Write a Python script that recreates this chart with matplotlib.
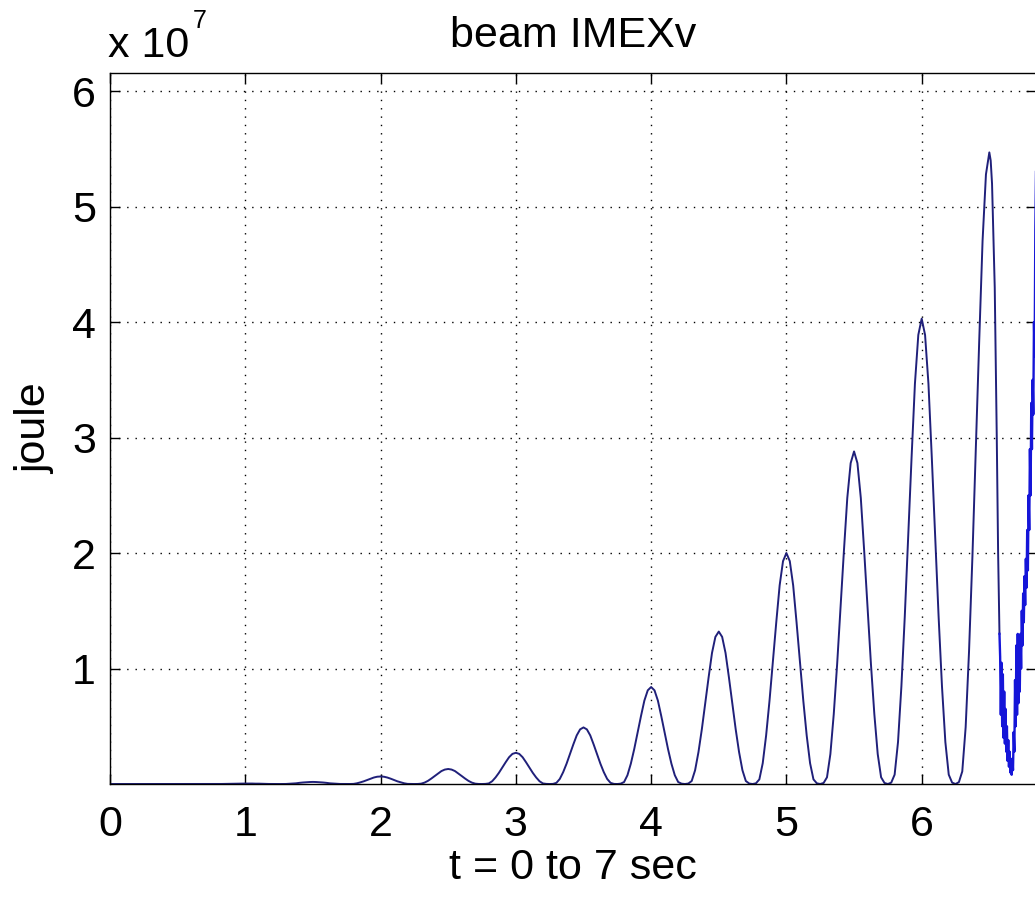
import numpy as np
import matplotlib
matplotlib.use("Agg")
import matplotlib.pyplot as plt
from matplotlib.ticker import FixedLocator, FuncFormatter

plt.rcParams['font.family'] = ['Liberation Sans', 'DejaVu Sans']

SCALE = 1e7

# Energy samples every 0.025 s from t = 0 to 6.5 s (units of 1e7 joule)
t_step = 0.025
energy_main = [
    # 0.000 .. 0.725
    0, 0, 0, 0, 0, 0, 0, 0, 0, 0, 0, 0, 0, 0, 0,
    0, 0, 0, 0, 0, 0, 0, 0, 0, 0, 0, 0, 0, 0, 0,
    # 0.750 .. 1.225
    0, 0, 0, 0.0004, 0.001, 0.002, 0.003, 0.003, 0.004, 0.004,
    0.004, 0.004, 0.004, 0.003, 0.003, 0.002, 0.001, 0.0004, 0, 0,
    # 1.250 .. 1.725
    0, 0.0001, 0.0004, 0.002, 0.004, 0.006, 0.010, 0.013, 0.015, 0.017,
    0.018, 0.017, 0.015, 0.013, 0.010, 0.006, 0.004, 0.002, 0.0004, 0.0001,
    # 1.750 .. 2.225
    0, 0.0002, 0.001, 0.006, 0.014, 0.023, 0.034, 0.046, 0.056, 0.063,
    0.065, 0.063, 0.056, 0.046, 0.034, 0.023, 0.014, 0.006, 0.001, 0.0002,
    # 2.250 .. 2.725
    0, 0.0004, 0.003, 0.012, 0.027, 0.047, 0.069, 0.091, 0.112, 0.125,
    0.130, 0.125, 0.112, 0.091, 0.069, 0.047, 0.027, 0.012, 0.003, 0.0004,
    # 2.750 .. 3.225
    0, 0.001, 0.005, 0.024, 0.057, 0.097, 0.143, 0.189, 0.232, 0.261,
    0.270, 0.261, 0.232, 0.189, 0.143, 0.097, 0.057, 0.024, 0.005, 0.001,
    # 3.250 .. 3.725
    0, 0.001, 0.010, 0.044, 0.103, 0.176, 0.260, 0.343, 0.421, 0.473,
    0.490, 0.473, 0.421, 0.343, 0.260, 0.176, 0.103, 0.044, 0.010, 0.001,
    # 3.750 .. 4.225
    0, 0.003, 0.017, 0.076, 0.176, 0.302, 0.445, 0.588, 0.722, 0.811,
    0.840, 0.811, 0.722, 0.588, 0.445, 0.302, 0.176, 0.076, 0.017, 0.003,
    # 4.250 .. 4.725
    0, 0.004, 0.026, 0.119, 0.277, 0.475, 0.700, 0.924, 1.135, 1.274,
    1.320, 1.274, 1.135, 0.924, 0.700, 0.475, 0.277, 0.119, 0.026, 0.004,
    # 4.750 .. 5.225
    0, 0.006, 0.040, 0.180, 0.420, 0.720, 1.060, 1.400, 1.720, 1.930,
    2.000, 1.930, 1.720, 1.400, 1.060, 0.720, 0.420, 0.180, 0.040, 0.006,
    # 5.250 .. 5.725
    0, 0.009, 0.058, 0.259, 0.605, 1.037, 1.526, 2.016, 2.477, 2.779,
    2.880, 2.779, 2.477, 2.016, 1.526, 1.037, 0.605, 0.259, 0.058, 0.009,
    # 5.750 .. 6.225
    0, 0.012, 0.081, 0.363, 0.846, 1.451, 2.136, 2.821, 3.466, 3.889,
    4.030, 3.889, 3.466, 2.821, 2.136, 1.451, 0.846, 0.363, 0.081, 0.012,
    # 6.250 .. 6.500
    0, 0.016, 0.109, 0.492, 1.149, 1.969, 2.899, 3.829, 4.704, 5.279,
    5.470,
]

# Steep fall after the last regular peak
drop_t = [6.51, 6.52, 6.54, 6.555, 6.565, 6.575]
drop_v = [5.40, 5.20, 4.30, 3.00, 2.00, 1.30]

# Onset of the numerical instability (fast oscillation)
burst_t = [6.580, 6.585, 6.590, 6.595, 6.600, 6.605, 6.610, 6.615, 6.620, 6.625,
           6.630, 6.635, 6.640, 6.645, 6.650, 6.655, 6.660, 6.665, 6.670, 6.675,
           6.680, 6.685, 6.690, 6.695, 6.700, 6.705, 6.710, 6.715, 6.720, 6.725,
           6.730, 6.735, 6.740, 6.745, 6.750, 6.755, 6.760, 6.765, 6.770, 6.775,
           6.780, 6.785, 6.790, 6.795, 6.800, 6.805, 6.810, 6.815, 6.820, 6.825,
           6.830, 6.835, 6.840, 6.845]
burst_v = [1.10, 0.60, 1.05, 0.50, 0.95, 0.40, 0.80, 0.35, 0.65, 0.28,
           0.50, 0.20, 0.38, 0.15, 0.28, 0.10, 0.20, 0.08, 0.22, 0.12,
           0.45, 0.28, 0.90, 0.50, 1.20, 0.60, 1.30, 0.70, 1.15, 0.80,
           1.30, 1.00, 1.50, 1.20, 1.65, 1.40, 1.80, 1.55, 1.95, 1.70,
           2.20, 1.85, 2.50, 2.20, 2.90, 2.50, 3.30, 2.90, 3.50, 3.20,
           4.00, 3.70, 4.80, 5.30]

x_ticks = [0, 1, 2, 3, 4, 5, 6]
y_ticks = [1, 2, 3, 4, 5, 6]

t_main = np.round(np.arange(len(energy_main)) * t_step, 4)
line_t = np.concatenate([t_main, drop_t])
line_v = np.concatenate([energy_main, drop_v]) * SCALE
tail_t = np.concatenate([[drop_t[-1]], burst_t])
tail_v = np.concatenate([[drop_v[-1]], burst_v]) * SCALE

W, H = 1035, 897
fig = plt.figure(figsize=(W / 100, H / 100), dpi=100)
fig.patch.set_facecolor('white')

ax_left, ax_right = 110, 1036
ax_top, ax_bottom = 72.7, 784
ax = fig.add_axes([ax_left / W, (H - ax_bottom) / H,
                   (ax_right - ax_left) / W, (ax_bottom - ax_top) / H])

ax.plot(line_t, line_v, color='#20207a', lw=1.4)
ax.plot(tail_t, tail_v, color='#1515d8', lw=1.7)

ax.set_xlim(0, 6.845)
ax.set_ylim(0, 6.16 * SCALE)

ax.xaxis.set_major_locator(FixedLocator(x_ticks))
ax.yaxis.set_major_locator(FixedLocator([v * SCALE for v in y_ticks]))
ax.yaxis.set_major_formatter(FuncFormatter(lambda v, p: f"{v / SCALE:g}"))

ax.grid(True, color='black', linestyle=(0, (1, 5)), linewidth=1.0)
ax.tick_params(direction='in', length=7, width=1.0, top=True, right=True,
               labelsize=31, colors='black')
ax.tick_params(axis='x', pad=15)
ax.tick_params(axis='y', pad=10)
for s in ax.spines.values():
    s.set_linewidth(1.0)
    s.set_color('black')

ax.set_title('beam IMEXv', fontsize=31, pad=18.5)
ax.set_xlabel('t = 0 to 7 sec', fontsize=31, labelpad=2)
ax.set_ylabel('joule', fontsize=31, labelpad=12)

# exponent marker above the y axis
fig.text(108 / W, 1 - 57 / H, 'x 10', fontsize=31, ha='left', va='baseline')
fig.text(193 / W, 1 - 28 / H, '7', fontsize=18, ha='left', va='baseline')

fig.savefig('out.png', dpi=100, facecolor='white')
